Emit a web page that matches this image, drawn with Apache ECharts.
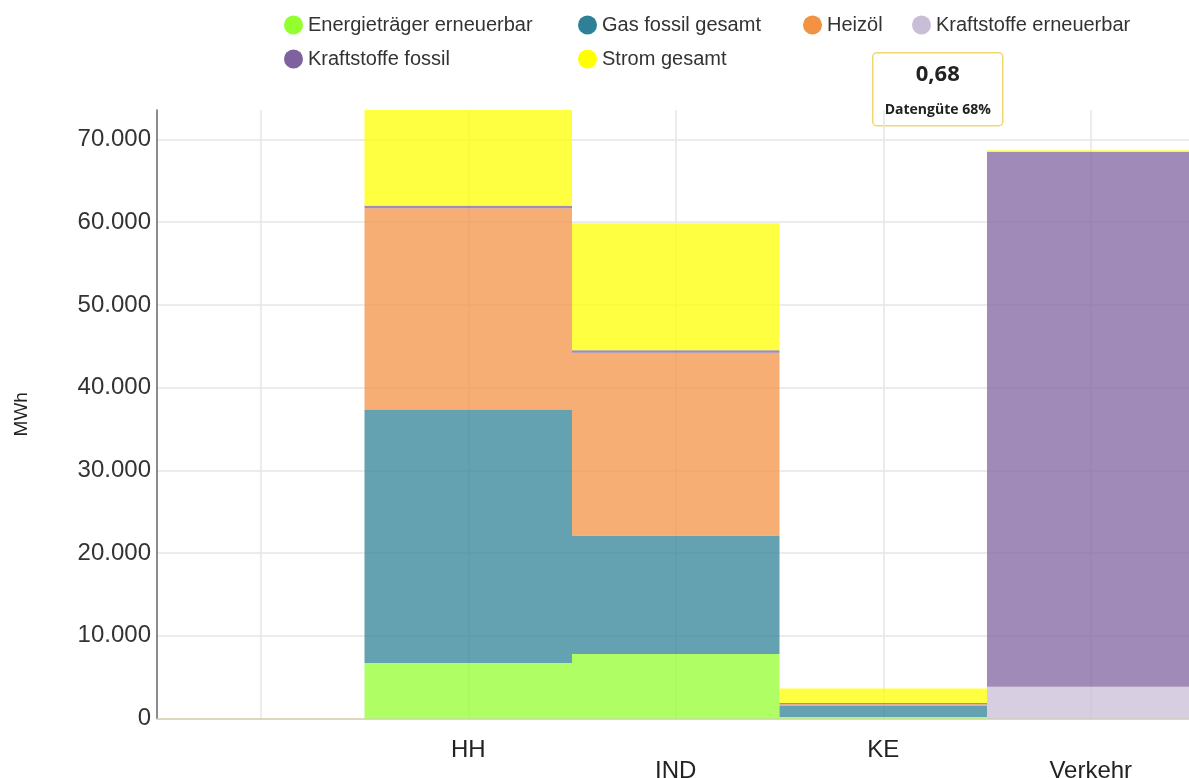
<!DOCTYPE html>
<html>
<head>
<meta charset="utf-8">
<script src="https://cdn.jsdelivr.net/npm/echarts@6/dist/echarts.min.js"></script>
<style>
  html, body { margin: 0; padding: 0; background: #fff; overflow: hidden; }
  #chart { width: 1189px; height: 778px; }
</style>
</head>
<body>
<div id="chart"></div>
<script>
// Endenergieverbrauch nach Sektor und Energieträger (MWh)
const categories = ['', 'HH', 'IND', 'KE', 'Verkehr'];

const energietraegerErneuerbar = [0, 6720, 7810, 190, 0];
const gasFossilGesamt        = [0, 30640, 14290, 1330, 0];
const heizoel                = [0, 24340, 22130, 200, 0];
const kraftstoffeErneuerbar  = [0, 0, 0, 0, 3850];
const kraftstoffeFossil      = [0, 280, 280, 150, 64670];
const stromGesamt            = [0, 11590, 15380, 1770, 170];

const seriesNames = ['Energieträger erneuerbar', 'Gas fossil gesamt', 'Heizöl',
  'Kraftstoffe erneuerbar', 'Kraftstoffe fossil', 'Strom gesamt'];
const seriesColors = ['#93ff2e', '#2e8096', '#f39243', '#cabdd8', '#7f619e', '#ffff00'];

const datenguete = 0.68;

const seriesData = [energietraegerErneuerbar, gasFossilGesamt, heizoel,
  kraftstoffeErneuerbar, kraftstoffeFossil, stromGesamt];

// Column totals give the top of the value axis
const totals = categories.map((_, i) => seriesData.reduce((s, arr) => s + arr[i], 0));
const yMax = Math.max(...totals);

const fmtDe = v => String(Math.round(v)).replace(/\B(?=(\d{3})+(?!\d))/g, '.');

// One legend per entry so the entries line up in columns
const legendPos = [
  { left: 284, top: 15 }, { left: 578, top: 15 }, { left: 803, top: 15 },
  { left: 912, top: 15 }, { left: 284, top: 49 }, { left: 578, top: 49 }
];
const legends = seriesNames.map((name, i) => ({
  data: [name],
  left: legendPos[i].left,
  top: legendPos[i].top,
  padding: 0,
  icon: 'circle',
  itemWidth: 19,
  itemHeight: 19,
  itemStyle: { opacity: 1 },
  textStyle: { fontSize: 20, color: '#333', fontFamily: 'Liberation Sans, Arial, sans-serif' }
}));

const chart = echarts.init(document.getElementById('chart'), null, { renderer: 'canvas' });

chart.setOption({
  animation: false,
  color: seriesColors,
  textStyle: { fontFamily: 'Liberation Sans, Arial, sans-serif' },
  legend: legends,
  grid: { left: 157, top: 110, width: 1037.5, height: 608.5, outerBoundsMode: 'none', containLabel: false },
  xAxis: {
    type: 'category',
    data: categories,
    boundaryGap: true,
    axisLine: { show: true, lineStyle: { color: '#cfcca8', width: 1.5 } },
    axisTick: { show: false },
    axisLabel: {
      interval: 0,
      margin: 21,
      fontSize: 24,
      lineHeight: 21,
      color: '#222',
      formatter: (v, idx) => (idx % 2 === 0 ? '\n' + v : v)
    },
    splitLine: { show: true, alignWithLabel: true, lineStyle: { color: '#e6e6e6', width: 1.5 } }
  },
  yAxis: {
    type: 'value',
    min: 0,
    max: yMax,
    interval: 10000,
    name: 'MWh',
    nameLocation: 'middle',
    nameGap: 126,
    nameTextStyle: { fontSize: 19, color: '#222' },
    axisLine: { show: true, lineStyle: { color: '#666', width: 1.5 } },
    axisTick: { show: false },
    axisLabel: {
      margin: 6,
      fontSize: 24,
      color: '#333',
      showMaxLabel: false,
      formatter: v => fmtDe(v)
    },
    splitLine: { show: true, showMaxLine: false, showMinLine: false, lineStyle: { color: '#e6e6e6', width: 1.5 } }
  },
  series: seriesNames.map((name, i) => ({
    name,
    type: 'bar',
    stack: 'gesamt',
    barCategoryGap: '0%',
    itemStyle: { color: seriesColors[i], opacity: 0.74 },
    data: seriesData[i]
  })),
  graphic: [{
    type: 'group',
    left: 872,
    top: 52,
    children: [
      {
        type: 'rect',
        shape: { x: 0, y: 0, width: 130, height: 73, r: 4 },
        style: { fill: '#fff', stroke: '#f2d66e', lineWidth: 1.5 }
      },
      {
        type: 'text',
        x: 65, y: 22,
        style: {
          text: String(datenguete).replace('.', ','),
          fontSize: 22, fontWeight: 'bold', fontFamily: 'Open Sans',
          fill: '#222', align: 'center', verticalAlign: 'middle'
        }
      },
      {
        type: 'text',
        x: 65, y: 57,
        style: {
          text: 'Datengüte ' + Math.round(datenguete * 100) + '%',
          fontSize: 14, fontWeight: 'bold', fontFamily: 'Open Sans',
          fill: '#222', align: 'center', verticalAlign: 'middle'
        }
      }
    ]
  }]
});
</script>
</body>
</html>
